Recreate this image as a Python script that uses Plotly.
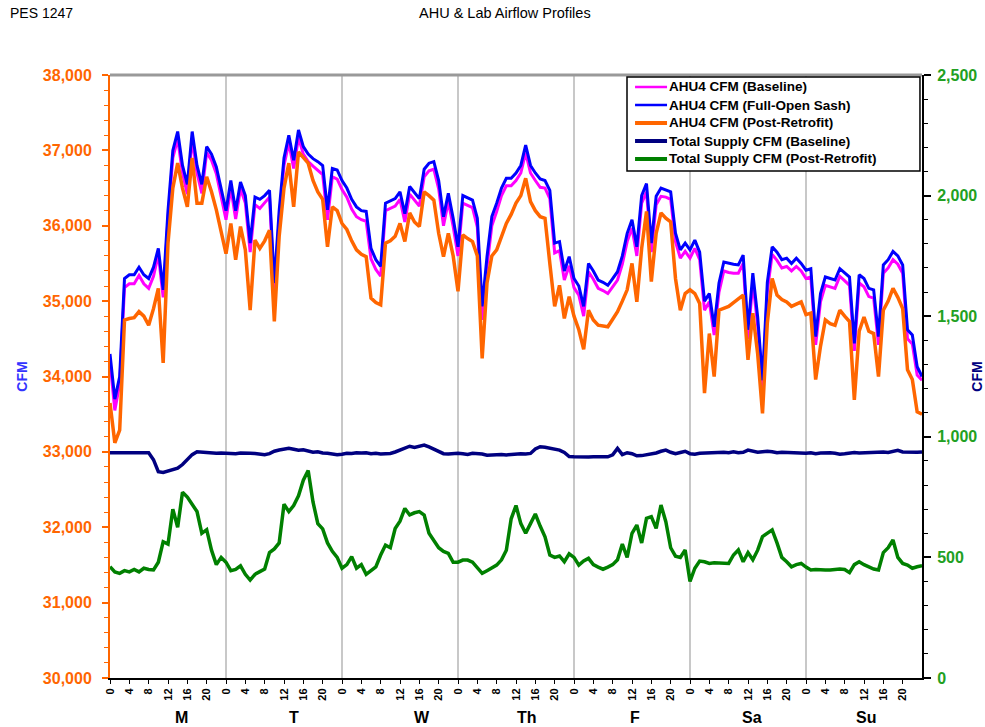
import plotly.graph_objects as go

# ---------------- data (hourly, Monday 0:00 -> Sunday 24:00) ----------------
hours = list(range(169))
hour_labels = [str(h % 24) for h in range(0, 168, 4)]
hour_ticks = list(range(0, 168, 4))
day_names = ["M", "T", "W", "Th", "F", "Sa", "Su"]
day_bounds = [24, 48, 72, 96, 120, 144]

ahu4_baseline = [
    34200, 33550, 33900, 35180, 35230, 35230, 35340, 35230, 35170, 35330, 35620, 35050, 36100, 36900, 37150, 36700, 36420, 37150, 36700, 36430, 36970, 36870, 36690, 36400,
    36080, 36500, 36090, 36490, 36300, 35650, 36280, 36230, 36300, 36380, 35120, 36100, 36800, 37100, 36760, 37170, 36950, 36850, 36790, 36740, 36680, 36080, 36650, 36620,
    36480, 36380, 36220, 36120, 36080, 36060, 35560, 35420, 35330, 36200, 36230, 36260, 36350, 36050, 36420, 36340, 36260, 36650, 36730, 36750, 36490, 36000, 36320, 35990,
    35600, 36300, 36270, 36240, 35980, 34750, 35460, 36000, 36190, 36400, 36530, 36530, 36600, 36700, 36970, 36700, 36600, 36510, 36500, 36360, 35640, 35670, 35280, 35470,
    35180, 35080, 34800, 35390, 35290, 35170, 35140, 35100, 35190, 35280, 35490, 35790, 35970, 35600, 36300, 36450, 35650, 36280, 36390, 36380, 36350, 35790, 35570, 35660,
    35570, 35700, 35550, 34880, 34990, 34550, 35120, 35400, 35380, 35370, 35370, 35500, 34500, 35250, 34680, 33850, 35130, 35620, 35540, 35440, 35460, 35400, 35460, 35400,
    35300, 35320, 34420, 34990, 35210, 35190, 35170, 35330, 35270, 35210, 34340, 35240, 35190, 35060, 35040, 34420, 35370, 35440, 35550, 35490, 35370, 34500, 34430, 34020,
    33950,
]

ahu4_full_open = [
    34300, 33700, 34000, 35300, 35350, 35350, 35450, 35350, 35300, 35450, 35700, 35150, 36200, 37000, 37250, 36800, 36550, 37250, 36800, 36550, 37050, 36950, 36780, 36500,
    36200, 36600, 36200, 36580, 36400, 35770, 36380, 36350, 36400, 36470, 35240, 36200, 36900, 37200, 36870, 37270, 37050, 36950, 36890, 36850, 36800, 36210, 36760, 36740,
    36600, 36500, 36350, 36250, 36200, 36190, 35700, 35550, 35460, 36300, 36330, 36360, 36450, 36160, 36520, 36440, 36360, 36750, 36830, 36850, 36600, 36120, 36430, 36100,
    35720, 36400, 36370, 36340, 36100, 34930, 35590, 36120, 36300, 36500, 36630, 36630, 36700, 36800, 37070, 36800, 36700, 36620, 36600, 36470, 35770, 35790, 35400, 35590,
    35300, 35200, 34930, 35500, 35400, 35280, 35250, 35210, 35300, 35390, 35600, 35900, 36080, 35720, 36400, 36560, 35770, 36390, 36500, 36480, 36450, 35900, 35680, 35770,
    35680, 35810, 35650, 35000, 35100, 34660, 35240, 35520, 35500, 35490, 35480, 35610, 34620, 35370, 34790, 33950, 35250, 35720, 35650, 35550, 35570, 35500, 35570, 35500,
    35410, 35430, 34530, 35100, 35320, 35300, 35280, 35430, 35380, 35320, 34440, 35350, 35300, 35170, 35150, 34530, 35480, 35550, 35660, 35600, 35480, 34620, 34550, 34130,
    34000,
]

ahu4_post_retrofit = [
    33650, 33120, 33290, 34750, 34770, 34780, 34860, 34800, 34680, 34900, 35170, 34180, 35770, 36500, 36830, 36500, 36250, 36900, 36300, 36300, 36650, 36450, 36210, 35900,
    35630, 36030, 35550, 35990, 35680, 34880, 35810, 35700, 35800, 35940, 34730, 35860, 36500, 36830, 36250, 36980, 36900, 36830, 36600, 36450, 36350, 35720, 36250, 36200,
    36030, 35950, 35800, 35680, 35620, 35590, 35040, 34980, 34950, 35770, 35800, 35860, 36030, 35790, 36170, 36050, 35990, 36450, 36400, 36340, 35900, 35590, 35900, 35600,
    35130, 35880, 35830, 35790, 35600, 34240, 35240, 35600, 35680, 35850, 36030, 36150, 36300, 36400, 36630, 36320, 36200, 36120, 36100, 35500, 34930, 35210, 34770, 35060,
    34800, 34620, 34360, 34880, 34750, 34680, 34670, 34660, 34760, 34860, 35000, 35150, 35500, 34990, 35700, 36190, 35260, 35900, 36170, 36100, 36050, 35300, 34880, 35100,
    35150, 35100, 34970, 33780, 34570, 34000, 34880, 34900, 34930, 34980, 35030, 35080, 34220, 34840, 34300, 33510, 34710, 35300, 35080, 35020, 34990, 34930, 34960, 34990,
    34820, 34840, 33960, 34400, 34750, 34700, 34680, 34880, 34800, 34730, 33690, 34600, 34790, 34600, 34570, 34000, 34880, 35000, 35170, 35050, 34900, 34090, 33960, 33530,
    33500,
]

total_supply_baseline = [
    934, 934, 935, 934, 933, 934, 935, 936, 934, 905, 855, 852, 858, 866, 870, 885, 905, 926, 938, 936, 934, 932, 932, 933,
    932, 932, 930, 933, 931, 932, 931, 928, 926, 930, 940, 945, 948, 952, 948, 944, 946, 941, 936, 938, 933, 932, 928, 926,
    928, 932, 931, 934, 933, 934, 930, 932, 929, 930, 931, 937, 945, 952, 961, 956, 962, 966, 958, 948, 936, 930, 929, 931,
    932, 930, 927, 932, 931, 929, 924, 925, 928, 927, 925, 927, 928, 930, 929, 931, 950, 959, 957, 952, 950, 945, 935, 918,
    917, 916, 917, 916, 917, 918, 916, 917, 925, 952, 926, 934, 930, 921, 922, 925, 928, 933, 940, 945, 936, 930, 935, 940,
    930, 928, 932, 933, 934, 933, 934, 936, 934, 938, 934, 936, 945, 940, 936, 938, 940, 938, 934, 936, 935, 934, 936, 935,
    932, 934, 930, 933, 935, 934, 932, 928, 930, 934, 935, 933, 934, 935, 936, 934, 937, 935, 941, 944, 937, 936, 935, 936,
    937,
]

total_supply_post_retrofit = [
    461, 440, 434, 445, 440, 450, 440, 455, 450, 448, 480, 565, 555, 700, 625, 770, 750, 720, 690, 600, 615, 530, 470, 500,
    480, 445, 450, 465, 430, 406, 430, 441, 452, 520, 535, 560, 720, 690, 715, 755, 820, 860, 730, 640, 618, 560, 525, 500,
    455, 470, 503, 455, 470, 430, 445, 461, 510, 551, 540, 620, 650, 703, 676, 685, 690, 676, 600, 570, 540, 525, 517, 480,
    480, 489, 489, 480, 455, 434, 445, 458, 468, 490, 530, 660, 715, 640, 600, 640, 680, 630, 585, 510, 500, 506, 482, 515,
    500, 468, 485, 496, 470, 460, 451, 460, 470, 490, 555, 500, 600, 634, 560, 662, 669, 620, 717, 648, 540, 505, 500, 531,
    400, 455, 485, 482, 475, 478, 478, 475, 475, 510, 531, 482, 520, 490, 530, 586, 600, 614, 560, 500, 482, 461, 470, 475,
    460, 448, 450, 448, 448, 448, 450, 452, 450, 437, 470, 482, 470, 462, 452, 448, 520, 540, 572, 500, 475, 468, 455, 461,
    465,
]

# ---------------- figure ----------------
FONT = "Arial, Liberation Sans, sans-serif"
ORANGE = "#FF6600"
GREEN = "#22A022"
DAY_LABEL_X = [14.7, 38.1, 64.6, 86.3, 108.6, 132.8, 156.4]  # label placement (hours)

fig = go.Figure()
series = [
    ("AHU4 CFM (Baseline)", ahu4_baseline, "#FF00FF", "y", 3, 2.5),
    ("AHU4 CFM (Full-Open Sash)", ahu4_full_open, "#0000FF", "y", 3, 2.5),
    ("AHU4 CFM (Post-Retrofit)", ahu4_post_retrofit, "#FF6600", "y", 3.5, 4),
    ("Total Supply CFM (Baseline)", total_supply_baseline, "#000080", "y2", 3.5, 4),
    ("Total Supply CFM (Post-Retrofit)", total_supply_post_retrofit, "#008000", "y2", 3.5, 4),
]
for name, vals, color, yax, w, _ in series:
    fig.add_trace(go.Scatter(x=hours, y=vals, name=name, mode="lines",
                             line=dict(color=color, width=w), yaxis=yax))

annotations = [
    dict(text="PES 1247", x=-0.1256, y=1.1028, xref="paper", yref="paper",
         xanchor="left", yanchor="middle", showarrow=False,
         font=dict(family=FONT, size=14, color="black")),
    dict(text="AHU &amp; Lab Airflow Profiles", x=0.4865, y=1.1028, xref="paper", yref="paper",
         xanchor="center", yanchor="middle", showarrow=False,
         font=dict(family=FONT, size=14.5, color="black")),
]
for name, c in zip(day_names, DAY_LABEL_X):
    annotations.append(dict(text=name, x=c, y=-0.0647, xref="x", yref="paper",
                            xanchor="center", yanchor="middle", showarrow=False,
                            font=dict(family=FONT, size=16, color="black", weight="bold")))

# compact boxed legend (top-right, inside plot)
shapes = [dict(type="line", xref="paper", yref="paper", x0=0, x1=1, y0=1, y1=1,
               line=dict(color="#999999", width=3))]
shapes.append(dict(type="rect", xref="paper", yref="paper", x0=0.6367, x1=0.9975,
                   y0=0.8408, y1=0.9967, fillcolor="white", line=dict(color="black", width=1.5),
                   layer="above"))
row_y = [0.9801, 0.9502, 0.9204, 0.8905, 0.8607]
for (name, _, color, _, _, lw), ry in zip(series, row_y):
    shapes.append(dict(type="line", xref="paper", yref="paper", x0=0.6466, x1=0.686,
                       y0=ry, y1=ry, line=dict(color=color, width=lw), layer="above"))
    annotations.append(dict(text=name, x=0.6875, y=ry, xref="paper", yref="paper",
                            xanchor="left", yanchor="middle", showarrow=False, borderpad=0,
                            font=dict(family=FONT, size=13.5, color="black", weight="bold")))

fig.update_layout(
    width=985, height=727,
    margin=dict(l=110, r=63, t=75, b=49, pad=0, autoexpand=False),
    paper_bgcolor="white", plot_bgcolor="white",
    font=dict(family=FONT, color="black"),
    showlegend=False,
    xaxis=dict(range=[0, 168], tickmode="array", tickvals=hour_ticks, ticktext=hour_labels,
               tickangle=-90, tickfont=dict(family=FONT, size=11, color="black", weight="bold"),
               showline=True, linecolor="black", linewidth=2, automargin=False,
               ticks="outside", ticklen=4, tickcolor="black", tickwidth=1,
               showgrid=False, zeroline=False,
               minor=dict(tickmode="array", tickvals=day_bounds, showgrid=True,
                          gridcolor="#C8C8C8", gridwidth=1.5, ticks="")),
    yaxis=dict(range=[30000, 38000], dtick=1000, tick0=30000, tickformat=",d",
               tickfont=dict(family=FONT, size=16, color=ORANGE, weight="bold"),
               showline=True, linecolor=ORANGE, linewidth=2, automargin=False,
               ticks="outside", ticklen=6, tickcolor=ORANGE, tickwidth=2,
               ticklabelstandoff=7,
               minor=dict(dtick=200, ticks="outside", ticklen=4, tickcolor=ORANGE, tickwidth=1),
               showgrid=False, zeroline=False,
               title=dict(text="CFM", standoff=12,
                          font=dict(family=FONT, size=14, color="#3333FF", weight="bold"))),
    yaxis2=dict(range=[0, 2500], dtick=500, tick0=0, tickformat=",d", overlaying="y", side="right",
                tickfont=dict(family=FONT, size=16, color=GREEN, weight="bold"),
                showline=True, linecolor="black", linewidth=2, automargin=False,
                ticks="outside", ticklen=7, tickcolor="black", tickwidth=2,
                ticklabelstandoff=3,
                minor=dict(dtick=100, ticks="outside", ticklen=4, tickcolor="black", tickwidth=1),
                showgrid=False, zeroline=False,
                title=dict(text="CFM", standoff=4,
                           font=dict(family=FONT, size=14, color="#000080", weight="bold"))),
    annotations=annotations,
    shapes=shapes,
)

fig.write_html("out.html", config={"displayModeBar": False},
               post_script="document.body.style.margin='0';document.body.style.overflow='hidden';")
